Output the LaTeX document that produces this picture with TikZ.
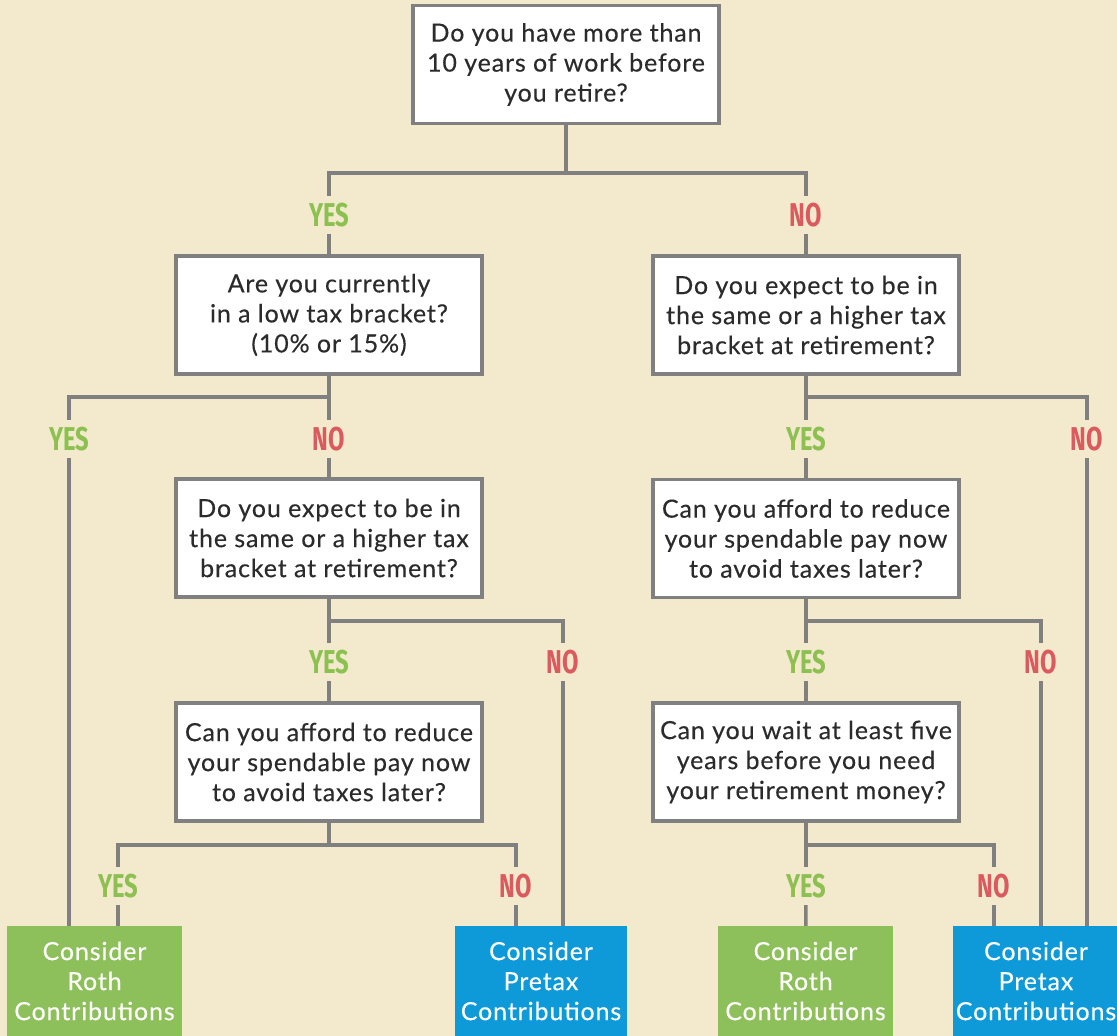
\documentclass[tikz,border=0pt]{standalone}
\usepackage{fontspec}
\setmainfont{Lato}[LetterSpace=3.5, FakeBold=0.3]
\newfontfamily\labfont{Fira Sans}
\definecolor{bg}{HTML}{F3EACE}
\definecolor{linegray}{HTML}{808080}
\definecolor{textdark}{HTML}{2B2B2B}
\definecolor{rothgreen}{HTML}{8DBF5A}
\definecolor{pretaxblue}{HTML}{0E9AD8}
\definecolor{yesgreen}{HTML}{8CC152}
\definecolor{nored}{HTML}{DB5A5E}
\tikzset{
  qbox/.style={draw=linegray, line width=3.5pt, fill=white, minimum width=306pt, minimum height=118pt,
    align=center, text=textdark, inner sep=0pt, font=\fontsize{25}{30}\selectfont},
  endbox/.style={minimum height=110pt, align=center, text=white, inner sep=0pt,
    font=\fontsize{25}{30}\selectfont},
  roth/.style={endbox, fill=rothgreen},
  pretax/.style={endbox, fill=pretaxblue},
  lab/.style={inner xsep=0pt, inner ysep=7pt, font=\labfont\bfseries\fontsize{33}{33}\selectfont},
  yeslab/.style={lab, text=yesgreen},
  nolab/.style={lab, text=nored},
  conn/.style={draw=linegray, line width=3.5pt}
}
\newcommand{\yestext}{\scalebox{0.72}[1]{YES}}
\newcommand{\notext}{\scalebox{0.72}[1]{NO}}
\begin{document}
\begin{tikzpicture}[x=1pt,y=-1pt]
\fill[bg] (0,0) rectangle (1117,1036);
\useasboundingbox (0,0) rectangle (1117,1036);

% question boxes
\node[qbox] (q0) at (566,64.5) {Do you have more than\\10 years of work before\\you retire?};
\node[qbox] (q1) at (329,315) {Are you currently\\in a low tax bracket?\\(10\% or 15\%)};
\node[qbox] (q2) at (806,315) {Do you expect to be in\\the same or a higher tax\\bracket at retirement?};
\node[qbox] (q3) at (329,538) {Do you expect to be in\\the same or a higher tax\\bracket at retirement?};
\node[qbox] (q4) at (806,538.5) {Can you afford to reduce\\your spendable pay now\\to avoid taxes later?};
\node[qbox] (q5) at (329,762) {Can you afford to reduce\\your spendable pay now\\to avoid taxes later?};
\node[qbox] (q6) at (806,762) {Can you wait at least five\\years before you need\\your retirement money?};

% outcome boxes
\node[roth, minimum width=175pt] (r1) at (94.5,981) {Consider\\Roth\\Contributions};
\node[pretax, minimum width=172pt] (p1) at (541,981) {Consider\\Pretax\\Contributions};
\node[roth, minimum width=175pt] (r2) at (805.5,981) {Consider\\Roth\\Contributions};
\node[pretax, minimum width=166pt] (p2) at (1036,981) {Consider\\Pretax\\Contributions};

% labels
\node[yeslab] (a1) at (329,215) {\yestext};
\node[nolab]  (a2) at (806,215) {\notext};
\node[yeslab] (b1) at (69,439) {\yestext};
\node[nolab]  (b2) at (329,439) {\notext};
\node[yeslab] (c1) at (806,439) {\yestext};
\node[nolab]  (c2) at (1087,439) {\notext};
\node[yeslab] (d1) at (329,662) {\yestext};
\node[nolab]  (d2) at (563,662) {\notext};
\node[yeslab] (e1) at (806,662) {\yestext};
\node[nolab]  (e2) at (1041,662) {\notext};
\node[yeslab] (f1) at (118,886) {\yestext};
\node[nolab]  (f2) at (516,886) {\notext};
\node[yeslab] (g1) at (806,886) {\yestext};
\node[nolab]  (g2) at (994,886) {\notext};

% junctions
\coordinate (j0) at (566,173);
\coordinate (j1) at (329,397);
\coordinate (j2) at (806,397);
\coordinate (j3) at (329,621);
\coordinate (j4) at (806,621);
\coordinate (j5) at (329,845);
\coordinate (j6) at (806,845);

% connectors
\draw[conn] (q0) -- (j0);
\draw[conn] (a1) |- (j0) -| (a2);
\draw[conn] (a1) -- (q1);
\draw[conn] (a2) -- (q2);

\draw[conn] (q1) -- (b2);
\draw[conn] (b1) |- (j1);
\draw[conn] (b2) -- (q3);
\draw[conn] (b1) -- (b1 |- r1.north);

\draw[conn] (q2) -- (c1);
\draw[conn] (c2) |- (j2);
\draw[conn] (c1) -- (q4);
\draw[conn] (c2) -- (c2 |- p2.north);

\draw[conn] (q3) -- (d1);
\draw[conn] (d2) |- (j3);
\draw[conn] (d1) -- (q5);
\draw[conn] (d2) -- (d2 |- p1.north);

\draw[conn] (q4) -- (e1);
\draw[conn] (e2) |- (j4);
\draw[conn] (e1) -- (q6);
\draw[conn] (e2) -- (e2 |- p2.north);

\draw[conn] (q5) -- (j5);
\draw[conn] (f1) |- (j5) -| (f2);
\draw[conn] (f1) -- (f1 |- r1.north);
\draw[conn] (f2) -- (f2 |- p1.north);

\draw[conn] (q6) -- (g1);
\draw[conn] (g2) |- (j6);
\draw[conn] (g1) -- (r2);
\draw[conn] (g2) -- (g2 |- p2.north);
\end{tikzpicture}
\end{document}
